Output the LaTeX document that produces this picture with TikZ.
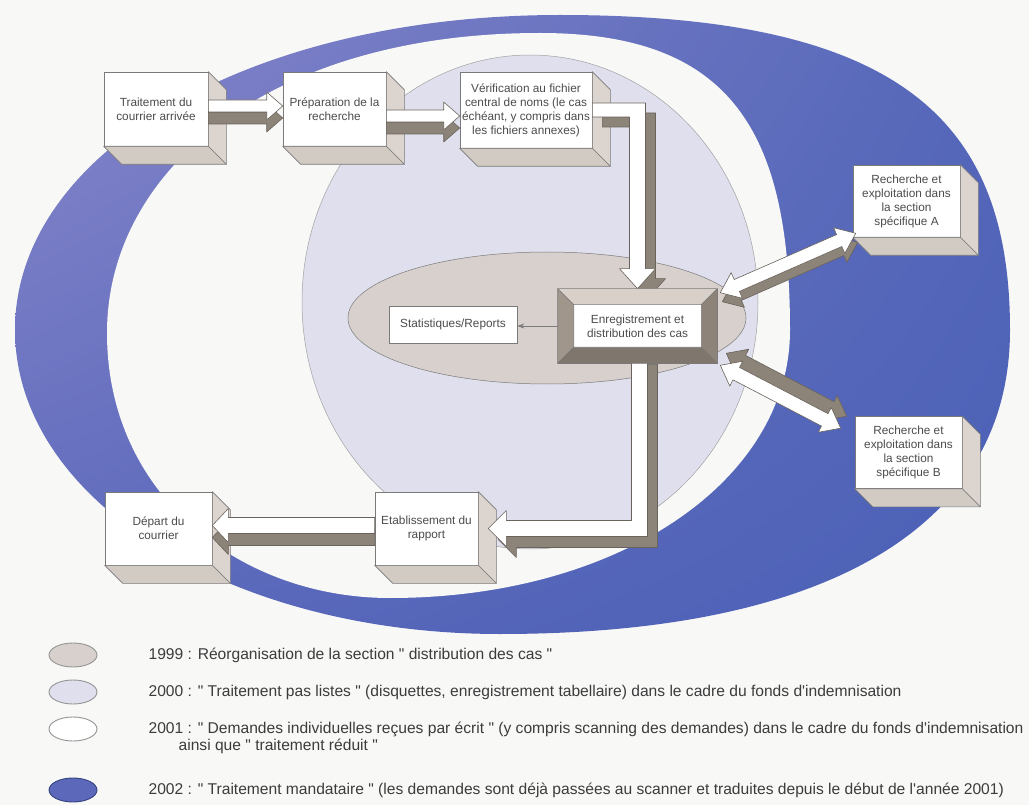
\documentclass[tikz,border=0pt]{standalone}
\usepackage{fontspec}
\newfontfamily\arialish{Liberation Sans}
\usetikzlibrary{calc,positioning,arrows.meta,shapes.geometric,shadings}

\definecolor{paper}{HTML}{F8F8F7}
\definecolor{crescentUL}{HTML}{8887CB}
\definecolor{crescentLL}{HTML}{5C69BB}
\definecolor{crescentUR}{HTML}{5567B9}
\definecolor{crescentLR}{HTML}{4A60B6}
\definecolor{lavender}{HTML}{DFDFEE}
\definecolor{taupe}{HTML}{D7D0CC}
\definecolor{edge}{HTML}{7A7A7A}
\definecolor{sideface}{HTML}{DCD5CF}
\definecolor{bottomface}{HTML}{D2CBC4}
\definecolor{shaftdark}{HTML}{8C8379}
\definecolor{arrowline}{HTML}{6A635C}
\definecolor{labeltext}{HTML}{4C4C4C}
\definecolor{keyink}{HTML}{3C3C3C}
\definecolor{bevtop}{HTML}{D8D0C9}
\definecolor{bevleft}{HTML}{A0968C}
\definecolor{bevright}{HTML}{8D8379}
\definecolor{bevbottom}{HTML}{7F766D}

\tikzset{
  stage/.style={draw=edge, fill=white, line width=0.6pt, align=center, text=labeltext,
    font=\arialish\fontsize{11.8}{14}\selectfont, inner sep=1pt},
  face/.style={draw=edge, line width=0.6pt, line join=round},
  shaft/.style={fill=white, draw=arrowline, line width=0.6pt, line join=round},
  shaftside/.style={fill=shaftdark, draw=arrowline, line width=0.6pt, line join=round},
  keymark/.style={ellipse, draw=edge!80, line width=0.9pt, minimum width=48pt,
    minimum height=24pt, inner sep=0pt},
  keytext/.style={font=\arialish\fontsize{15.6}{17}\selectfont, text=keyink, inner sep=0pt, anchor=west}
}

% extruded sides of a box, seen from the upper left
\newcommand{\boxdepth}[1]{%
  \draw[face, fill=sideface] (#1.north east) -- ++(18,18) -- ($(#1.south east)+(18,18)$) -- (#1.south east) -- cycle;
  \draw[face, fill=bottomface] (#1.south west) -- (#1.south east) -- ++(18,18) -- ($(#1.south west)+(18,18)$) -- cycle;
}
% sunken frame round a box
\newcommand{\bevel}[2]{%
  \draw[face, fill=bevtop] (#1.north west) -- (#1.north east) -- ($(#1.north east)+(-#2,#2)$) -- ($(#1.north west)+(#2,#2)$) -- cycle;
  \draw[face, fill=bevleft] (#1.north west) -- ($(#1.north west)+(#2,#2)$) -- ($(#1.south west)+(#2,-#2)$) -- (#1.south west) -- cycle;
  \draw[face, fill=bevright] (#1.north east) -- (#1.south east) -- ($(#1.south east)+(-#2,-#2)$) -- ($(#1.north east)+(-#2,#2)$) -- cycle;
  \draw[face, fill=bevbottom] (#1.south west) -- (#1.south east) -- ($(#1.south east)+(-#2,-#2)$) -- ($(#1.south west)+(#2,-#2)$) -- cycle;
}
% flat arrows with a dark side
\newcommand{\arrowshape}[1]{($(#1s)!\sw!90:(#1e)$) -- ($(#1h)!\sw!90:(#1e)$) -- ($(#1h)!\hw!90:(#1e)$) -- (#1e) -- ($(#1h)!\hw!-90:(#1e)$) -- ($(#1h)!\sw!-90:(#1e)$) -- ($(#1s)!\sw!-90:(#1e)$) -- cycle}
\newcommand{\twinshape}[1]{(#1s) -- ($(#1g)!\hw!90:(#1e)$) -- ($(#1g)!\sw!90:(#1e)$) -- ($(#1h)!\sw!90:(#1e)$) -- ($(#1h)!\hw!90:(#1e)$) -- (#1e) -- ($(#1h)!\hw!-90:(#1e)$) -- ($(#1h)!\sw!-90:(#1e)$) -- ($(#1g)!\sw!-90:(#1e)$) -- ($(#1g)!\hw!-90:(#1e)$) -- cycle}
\newcommand{\blockarrow}[5]{%
  \coordinate (ba-s) at (#1); \coordinate (ba-e) at (#2);
  \coordinate (ba-h) at ($(ba-e)!16pt!(ba-s)$);
  \coordinate (bb-s) at ($(ba-s)+(#3)$); \coordinate (bb-e) at ($(ba-e)+(#3)$);
  \coordinate (bb-h) at ($(ba-h)+(#3)$);
  \def\sw{#4pt}\def\hw{#5pt}
  \filldraw[shaftside] \arrowshape{bb-};
  \filldraw[shaft] \arrowshape{ba-};
}
\newcommand{\twinarrow}[5]{%
  \coordinate (ba-s) at (#1); \coordinate (ba-e) at (#2);
  \coordinate (ba-h) at ($(ba-e)!18pt!(ba-s)$); \coordinate (ba-g) at ($(ba-s)!18pt!(ba-e)$);
  \coordinate (bb-s) at ($(ba-s)+(#3)$); \coordinate (bb-e) at ($(ba-e)+(#3)$);
  \coordinate (bb-h) at ($(ba-h)+(#3)$); \coordinate (bb-g) at ($(ba-g)+(#3)$);
  \def\sw{#4pt}\def\hw{#5pt}
  \filldraw[shaftside] \twinshape{bb-};
  \filldraw[shaft] \twinshape{ba-};
}
% bent arrows round the distribution box
\newcommand{\topbend}[1]{($(verif.east)+(0,-7)+(#1)$) -- ($(verif.east -| enreg.north)+(8,-7)+(#1)$) -- ($(enreg.north)+(8,-20)+(#1)$) -- ($(enreg.north)+(18,-20)+(#1)$) -- ($(enreg.north)+(#1)$) -- ($(enreg.north)+(-18,-20)+(#1)$) -- ($(enreg.north)+(-8,-20)+(#1)$) -- ($(verif.east -| enreg.north)+(-8,7)+(#1)$) -- ($(verif.east)+(0,7)+(#1)$) -- cycle}
\newcommand{\lowbend}[1]{($(enreg.south)+(-6,-10)+(#1)$) -- ($(enreg.south)+(10,-10)+(#1)$) -- ($(enreg.south |- etab.east)+(10,8)+(#1)$) -- ($(etab.east)+(28,8)+(#1)$) -- ($(etab.east)+(28,18)+(#1)$) -- ($(etab.east)+(10,0)+(#1)$) -- ($(etab.east)+(28,-18)+(#1)$) -- ($(etab.east)+(28,-8)+(#1)$) -- ($(enreg.south |- etab.east)+(-6,-8)+(#1)$) -- cycle}

\begin{document}
\begin{tikzpicture}[x=1pt,y=-1pt]

  \useasboundingbox (0,0) rectangle (1029,805);
  \fill[paper] (0,0) rectangle (1029,805);

  % the four rings, 2002 outside to 1999 inside
  \shade[upper left=crescentUL, lower left=crescentLL, upper right=crescentUR, lower right=crescentLR] (15,330) .. controls (15,152) and (250,15) .. (560,15) .. controls (900,15) and (1010,120) .. (1010,330) .. controls (1010,525) and (830,634) .. (500,634) .. controls (230,634) and (15,500) .. (15,330) -- cycle;
  \fill[paper] (107,333) .. controls (107,170) and (270,33) .. (540,33) .. controls (730,33) and (790,130) .. (790,330) .. controls (790,480) and (620,598) .. (390,598) .. controls (240,598) and (107,495) .. (107,333) -- cycle;
  \filldraw[fill=lavender, draw=edge!70, line width=0.5pt] (530,302) ellipse [x radius=228pt, y radius=247pt];
  \filldraw[fill=taupe, draw=edge, line width=0.5pt] (547,318) ellipse [x radius=199pt, y radius=66pt];

  \node [stage, minimum width=128pt, minimum height=37pt] at (453,324.5) (stats) {Statistiques/Reports};

  \node [stage, minimum width=104pt, minimum height=74pt] at (156,109) (trait) {Traitement du\\courrier arrivée};
  \node [stage, minimum width=103pt, minimum height=74pt] at (334.5,109) (prep) {Préparation de la\\recherche};
  \node [stage, minimum width=132pt, minimum height=76pt] at (526,110) (verif) {Vérification au fichier\\central de noms (le cas\\échéant, y compris dans\\les fichiers annexes)};
  \node [stage, minimum width=107pt, minimum height=72pt] at (906.5,201) (recA) {Recherche et\\exploitation dans\\la section\\spécifique A};
  \node [stage, minimum width=107pt, minimum height=72pt] at (908.5,452.5) (recB) {Recherche et\\exploitation dans\\la section\\spécifique B};
  \node [stage, minimum width=107pt, minimum height=73pt] at (158.5,528.5) (depart) {Départ du\\courrier};
  \node [stage, minimum width=103pt, minimum height=73pt] at (426.5,528.5) (etab) {Etablissement du\\rapport};
  \boxdepth{trait} \boxdepth{prep} \boxdepth{verif}
  \boxdepth{recA} \boxdepth{recB} \boxdepth{depart} \boxdepth{etab}

  \node [stage, minimum width=159pt, minimum height=74pt] at (637.5,326) (enreg) {Enregistrement et\\distribution des cas};

  \blockarrow{$(trait.east)+(0,-3)$}{$(prep.west)+(0,-3)$}{0,12}{6}{14}
  \blockarrow{$(prep.east)+(0,7)$}{$(verif.west)+(0,6)$}{0,12}{6}{14}
  \filldraw[shaftside] \topbend{10,10};
  \filldraw[shaft] \topbend{0,0};
  \filldraw[shaftside] \lowbend{10,11};
  \filldraw[shaft] \lowbend{0,0};
  \blockarrow{$(etab.west)+(0,-3)$}{$(depart.east)+(0,-3)$}{0,12}{8}{17}

  \bevel{enreg}{16}
  \draw [-{Stealth[length=7pt,width=5pt]}, edge, line width=0.7pt] (enreg.west) -- (enreg.west -| stats.east);

  \twinarrow{$(enreg.north east)+(3,4)$}{$(recA.south west)+(3,-4)$}{2,9}{6.5}{14}
  \twinarrow{$(enreg.south east)+(3,2)$}{$(recB.north west)+(-14,12)$}{6,-12}{7}{14}

  % legend
  \node [keymark, fill=taupe] at (73,655) (k1999) {};
  \node [keymark, fill=lavender] at (73,692) (k2000) {};
  \node [keymark, fill=white] at (73,729) (k2001) {};
  \node [keymark, fill=crescentLL, draw=crescentLR!70!black] at (73,790) (k2002) {};

  \node [keytext] at ($(k1999.east)+(51,0)$) (t1999) {1999 : Réorganisation de la section " distribution des cas "};
  \node [keytext] at ($(k2000.east)+(51,0)$) (t2000) {2000 : " Traitement pas listes " (disquettes, enregistrement tabellaire) dans le cadre du fonds d'indemnisation};
  \node [keytext] at ($(k2001.east)+(51,0)$) (t2001) {2001 : " Demandes individuelles reçues par écrit " (y compris scanning des demandes) dans le cadre du fonds d'indemnisation};
  \node [keytext] at ($(t2001.west)+(30,17)$) (t2001b) {ainsi que " traitement réduit "};
  \node [keytext] at ($(k2002.east)+(51,0)$) (t2002) {2002 : " Traitement mandataire " (les demandes sont déjà passées au scanner et traduites depuis le début de l'année 2001)};

\end{tikzpicture}
\end{document}
